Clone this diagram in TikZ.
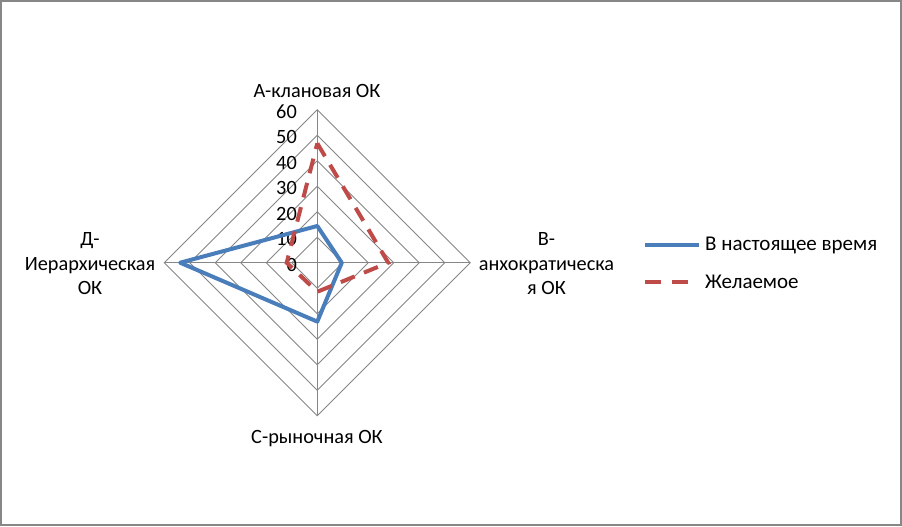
\documentclass[tikz,border=0pt]{standalone}
\usepackage{fontspec}
\setmainfont{Carlito}
\usetikzlibrary{calc}
\definecolor{gridgray}{HTML}{868686}
\definecolor{frame}{HTML}{878787}
\definecolor{serblue}{HTML}{4A7EBB}
\definecolor{serred}{HTML}{BE4B48}
\begin{document}
\begin{tikzpicture}[x=1pt,y=-1pt,
  lbl/.style={font=\fontsize{20.3}{24}\selectfont, inner sep=0pt},
  leglbl/.style={font=\fontsize{21}{25}\selectfont, inner sep=0pt},
  gridline/.style={draw=gridgray, line width=0.9pt},
  nowline/.style={draw=serblue, line width=4pt, line join=round},
  wishline/.style={draw=serred, line width=4pt, dash pattern=on 15pt off 10pt}]
\useasboundingbox (0,0) rectangle (902,527);
\draw[frame, line width=2pt] (1,1) rectangle (901,525);
\coordinate (O) at (317.3,262.7);
\def\u{2.55}
% rings
\foreach \k in {1,...,6}{
  \pgfmathsetmacro\r{\k*10*\u}
  \draw[gridline] ($(O)+(0,-\r)$) -- ($(O)+(\r,0)$) -- ($(O)+(0,\r)$) -- ($(O)+(-\r,0)$) -- cycle;
}
% axes
\coordinate (A) at ($(O)+(0,-60*\u)$);
\coordinate (B) at ($(O)+(60*\u,0)$);
\coordinate (C) at ($(O)+(0,60*\u)$);
\coordinate (D) at ($(O)+(-60*\u,0)$);
\foreach \p in {A,B,C,D} \draw[gridline] (O) -- (\p);
% tick labels
\foreach \k in {0,...,6}{
  \node[lbl, anchor=east] (t\k) at ($(O)+(-20.3,-\k*10*\u+2)$) {\ifnum\k=0 0\else\k0\fi};
}
% data: current
\draw[nowline] ($(O)+(0,-14.4*\u)$) -- ($(O)+(9.6*\u,0)$) -- ($(O)+(0,23.1*\u)$) -- ($(O)+(-53.8*\u,0)$) -- cycle;
% data: desired
\draw[wishline] ($(O)+(0,-46.8*\u)$) -- ($(O)+(27.8*\u,0)$) -- ($(O)+(0,11.4*\u)$) -- ($(O)+(-12*\u,0)$) -- cycle;
% category labels
\node[lbl, anchor=base] (la) at (317,97) {А-клановая ОК};
\node[lbl, anchor=base] (lc) at (317,443) {С-рыночная ОК};
\node[lbl, anchor=base] (ld1) at (90,245.5) {Д-};
\node[lbl, anchor=base] (ld2) at (90,270) {Иерархическая};
\node[lbl, anchor=base] (ld3) at (90,294.5) {ОК};
\node[lbl, anchor=base] (lb1) at (546.5,245.5) {В-};
\node[lbl, anchor=base] (lb2) at (546.5,270) {анхократическа};
\node[lbl, anchor=base] (lb3) at (546.5,294.5) {я ОК};
% legend
\coordinate (k1a) at (645,245);
\coordinate (k1b) at (699,245);
\coordinate (k2a) at (645,282);
\coordinate (k2b) at (699,282);
\draw[nowline] (k1a) -- (k1b);
\draw[draw=serred, line width=4pt, dash pattern=on 16pt off 11pt] (k2a) -- (k2b);
\node[leglbl, anchor=base west] (lg1) at (705,250.7) {В настоящее время};
\node[leglbl, anchor=base west] (lg2) at (705,288.3) {Желаемое};
\end{tikzpicture}
\end{document}
